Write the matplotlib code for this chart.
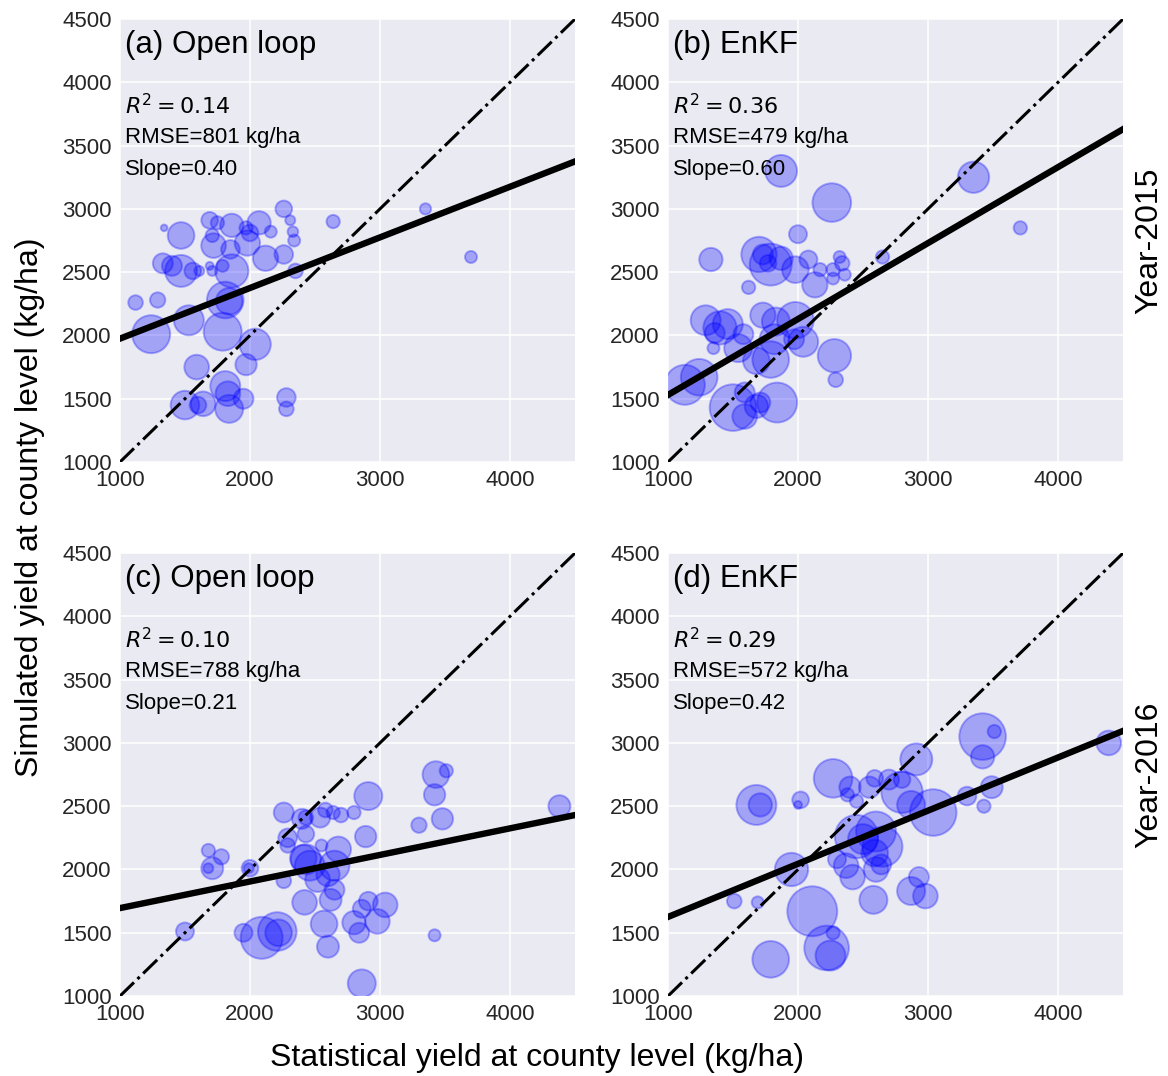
import matplotlib
matplotlib.use("Agg")
import matplotlib.pyplot as plt

# Statistical (obs) vs simulated (sim) county yields, kg/ha; size = bubble area
obs_a = [1340, 1470, 1690, 1750, 1860, 1970, 2070, 2000, 2160, 2260, 2310, 2330, 2340,
         2640, 3350, 3700, 1710, 1720, 1850, 1980, 2120, 2260, 2350, 1330, 1400, 1470,
         1560, 1610, 1690, 1710, 1790, 1860, 1120, 1290, 1810, 1840, 1530, 1240, 1790,
         2040, 1970, 1590, 1810, 1830, 1500, 1640, 1600, 1840, 1950, 2280, 2280]
sim_a = [2850, 2790, 2910, 2890, 2870, 2850, 2890, 2810, 2820, 3000, 2910, 2820, 2750,
         2900, 3000, 2620, 2790, 2710, 2680, 2730, 2610, 2640, 2510, 2570, 2550, 2510,
         2510, 2510, 2550, 2510, 2550, 2510, 2260, 2280, 2280, 2270, 2120, 2010, 2030,
         1930, 1770, 1750, 1600, 1540, 1450, 1460, 1450, 1420, 1500, 1510, 1420]
size_a = [23, 368, 144, 92, 282, 92, 282, 144, 75, 144, 52, 59, 75,
          92, 66, 75, 92, 315, 180, 332, 332, 180, 111, 207, 207, 530,
          144, 52, 33, 52, 75, 575, 111, 122, 695, 368, 466, 748, 748,
          508, 236, 315, 466, 315, 425, 315, 144, 406, 207, 180, 111]

obs_b = [1870, 2260, 3350, 3710, 2000, 1330, 1700, 1790, 1730, 1770, 1870, 1980, 2080,
         2130, 2170, 2270, 2270, 2320, 2340, 2360, 2650, 1620, 1290, 1400, 1460, 1360,
         1580, 1350, 1540, 1730, 1830, 1980, 1820, 1970, 2040, 1680, 1790, 2280, 2290,
         1130, 1240, 1500, 1590, 1590, 1680, 1840, 1710]
sim_b = [3300, 3050, 3250, 2850, 2800, 2600, 2640, 2560, 2640, 2570, 2610, 2520, 2600,
         2400, 2520, 2520, 2450, 2620, 2570, 2480, 2620, 2380, 2120, 2060, 2090, 2020,
         2010, 1900, 1900, 2160, 2110, 2120, 1970, 1970, 1950, 1800, 1810, 1840, 1650,
         1610, 1670, 1430, 1550, 1360, 1440, 1470, 1470]
size_b = [530, 773, 508, 92, 168, 282, 647, 913, 207, 144, 282, 368, 168,
          332, 92, 92, 75, 75, 111, 75, 92, 92, 466, 575, 466, 207,
          207, 75, 406, 332, 406, 695, 466, 207, 466, 368, 695, 575, 111,
          828, 695, 1126, 207, 315, 282, 828, 207]

obs_c = [1500, 1680, 1780, 1710, 1680, 2000, 1990, 2260, 2400, 2430, 2290, 2430, 2290,
         2410, 2430, 2460, 2260, 2550, 2540, 2580, 2640, 2700, 2800, 2680, 2650, 2600,
         2520, 2650, 2620, 2420, 2910, 2890, 3430, 3510, 3420, 3300, 3480, 4380, 3420,
         2910, 3040, 2860, 2800, 2840, 2980, 2570, 2600, 2860, 1950, 2090, 2210, 2220]
sim_c = [1510, 2150, 2100, 2010, 2010, 2010, 2010, 2450, 2400, 2410, 2250, 2280, 2190,
         2090, 2080, 2030, 1910, 2190, 2410, 2470, 2450, 2430, 2450, 2160, 2030, 1960,
         1920, 1840, 1760, 1740, 2580, 2260, 2750, 2780, 2590, 2350, 2400, 2500, 1480,
         1750, 1720, 1690, 1580, 1500, 1590, 1570, 1390, 1100, 1500, 1460, 1510, 1500]
size_c = [168, 92, 122, 250, 52, 144, 52, 207, 207, 111, 180, 144, 111,
          368, 466, 466, 111, 75, 207, 111, 92, 111, 92, 332, 466, 282,
          315, 207, 250, 315, 406, 236, 368, 92, 236, 122, 236, 250, 75,
          180, 315, 168, 282, 207, 315, 368, 250, 406, 168, 913, 773, 368]

obs_d = [1680, 1710, 2020, 2000, 2270, 2400, 2380, 2450, 2590, 2550, 2700, 2800, 2800,
         2910, 2870, 3040, 3420, 3510, 3420, 3300, 3490, 3430, 4390, 2450, 2600, 2650,
         2500, 2300, 2370, 2590, 2640, 2600, 2420, 1950, 2580, 2930, 2870, 2980, 1510,
         1690, 2110, 2220, 2250, 2270, 1790]
sim_d = [2510, 2510, 2550, 2510, 2720, 2650, 2590, 2540, 2720, 2650, 2710, 2710, 2610,
         2870, 2510, 2450, 3050, 3090, 2890, 2580, 2650, 2500, 3000, 2260, 2300, 2180,
         2240, 2080, 2030, 2130, 2040, 2000, 1940, 2000, 1760, 1940, 1830, 1790, 1750,
         1740, 1670, 1380, 1320, 1500, 1290]
size_d = [828, 282, 144, 33, 773, 236, 92, 92, 144, 236, 207, 144, 885,
          530, 406, 1126, 1126, 92, 282, 180, 250, 92, 315, 972, 828, 828,
          466, 168, 315, 368, 207, 315, 315, 575, 406, 207, 406, 315, 111,
          75, 1294, 1032, 466, 92, 695]

titles = ["(a) Open loop", "(b) EnKF", "(c) Open loop", "(d) EnKF"]
r2 = ["0.14", "0.36", "0.10", "0.29"]
rmse = [801, 479, 788, 572]
slope = [0.40, 0.60, 0.21, 0.42]
intercept = [1575, 930, 1485, 1205]
years = ["Year-2015", "Year-2016"]

obs = [obs_a, obs_b, obs_c, obs_d]
sim = [sim_a, sim_b, sim_c, sim_d]
sizes = [size_a, size_b, size_c, size_d]

plt.rcParams['font.family'] = ['Liberation Sans', 'DejaVu Sans']
plt.rcParams['mathtext.fontset'] = 'dejavusans'

fig = plt.figure(figsize=(11.68, 10.76), dpi=100)
lefts = [0.1027, 0.5719, 0.1027, 0.5719]
bottoms = [0.5706, 0.5706, 0.0743, 0.0743]

for i in range(4):
    ax = fig.add_axes([lefts[i], bottoms[i], 0.3896, 0.4117])
    ax.set_facecolor('#EAEAF2')
    for sp in ax.spines.values():
        sp.set_visible(False)
    ax.grid(True, color='white', linewidth=1.1)
    ax.set_axisbelow(True)

    ax.scatter(obs[i], sim[i], s=sizes[i], c='b', alpha=0.3,
               edgecolors='b', linewidths=1.4)

    # 1:1 line and fitted regression line
    xs = [1000, 4500]
    ax.plot(xs, xs, color='black', lw=2.2, linestyle='-.')
    ax.plot(xs, [slope[i] * x + intercept[i] for x in xs], color='black', lw=4.6)

    ax.set_xlim(1000, 4500)
    ax.set_ylim(1000, 4500)
    ax.set_xticks([1000, 2000, 3000, 4000])
    ax.set_yticks(range(1000, 4501, 500))
    ax.tick_params(length=0, pad=6, labelsize=16, labelcolor='#262626')

    ax.text(0.012, 0.975, titles[i], transform=ax.transAxes, fontsize=22.5,
            va='top', ha='left')
    ax.text(0.012, 0.802, r'$R^2 = %s$' % r2[i], transform=ax.transAxes,
            fontsize=16, va='center')
    ax.text(0.012, 0.733, 'RMSE=%d kg/ha' % rmse[i], transform=ax.transAxes,
            fontsize=16, va='center')
    ax.text(0.012, 0.661, 'Slope=%.2f' % slope[i], transform=ax.transAxes,
            fontsize=16, va='center')

    if i % 2 == 1:
        ax.text(1.057, 0.5, years[i // 2], transform=ax.transAxes, rotation=90,
                fontsize=23, va='center', ha='center')

fig.text(0.026, 0.529, 'Simulated yield at county level (kg/ha)', rotation=90,
         fontsize=23, va='center', ha='center')
fig.text(0.46, 0.017, 'Statistical yield at county level (kg/ha)',
         fontsize=23, va='center', ha='center')

fig.savefig('out.png', dpi=100)
